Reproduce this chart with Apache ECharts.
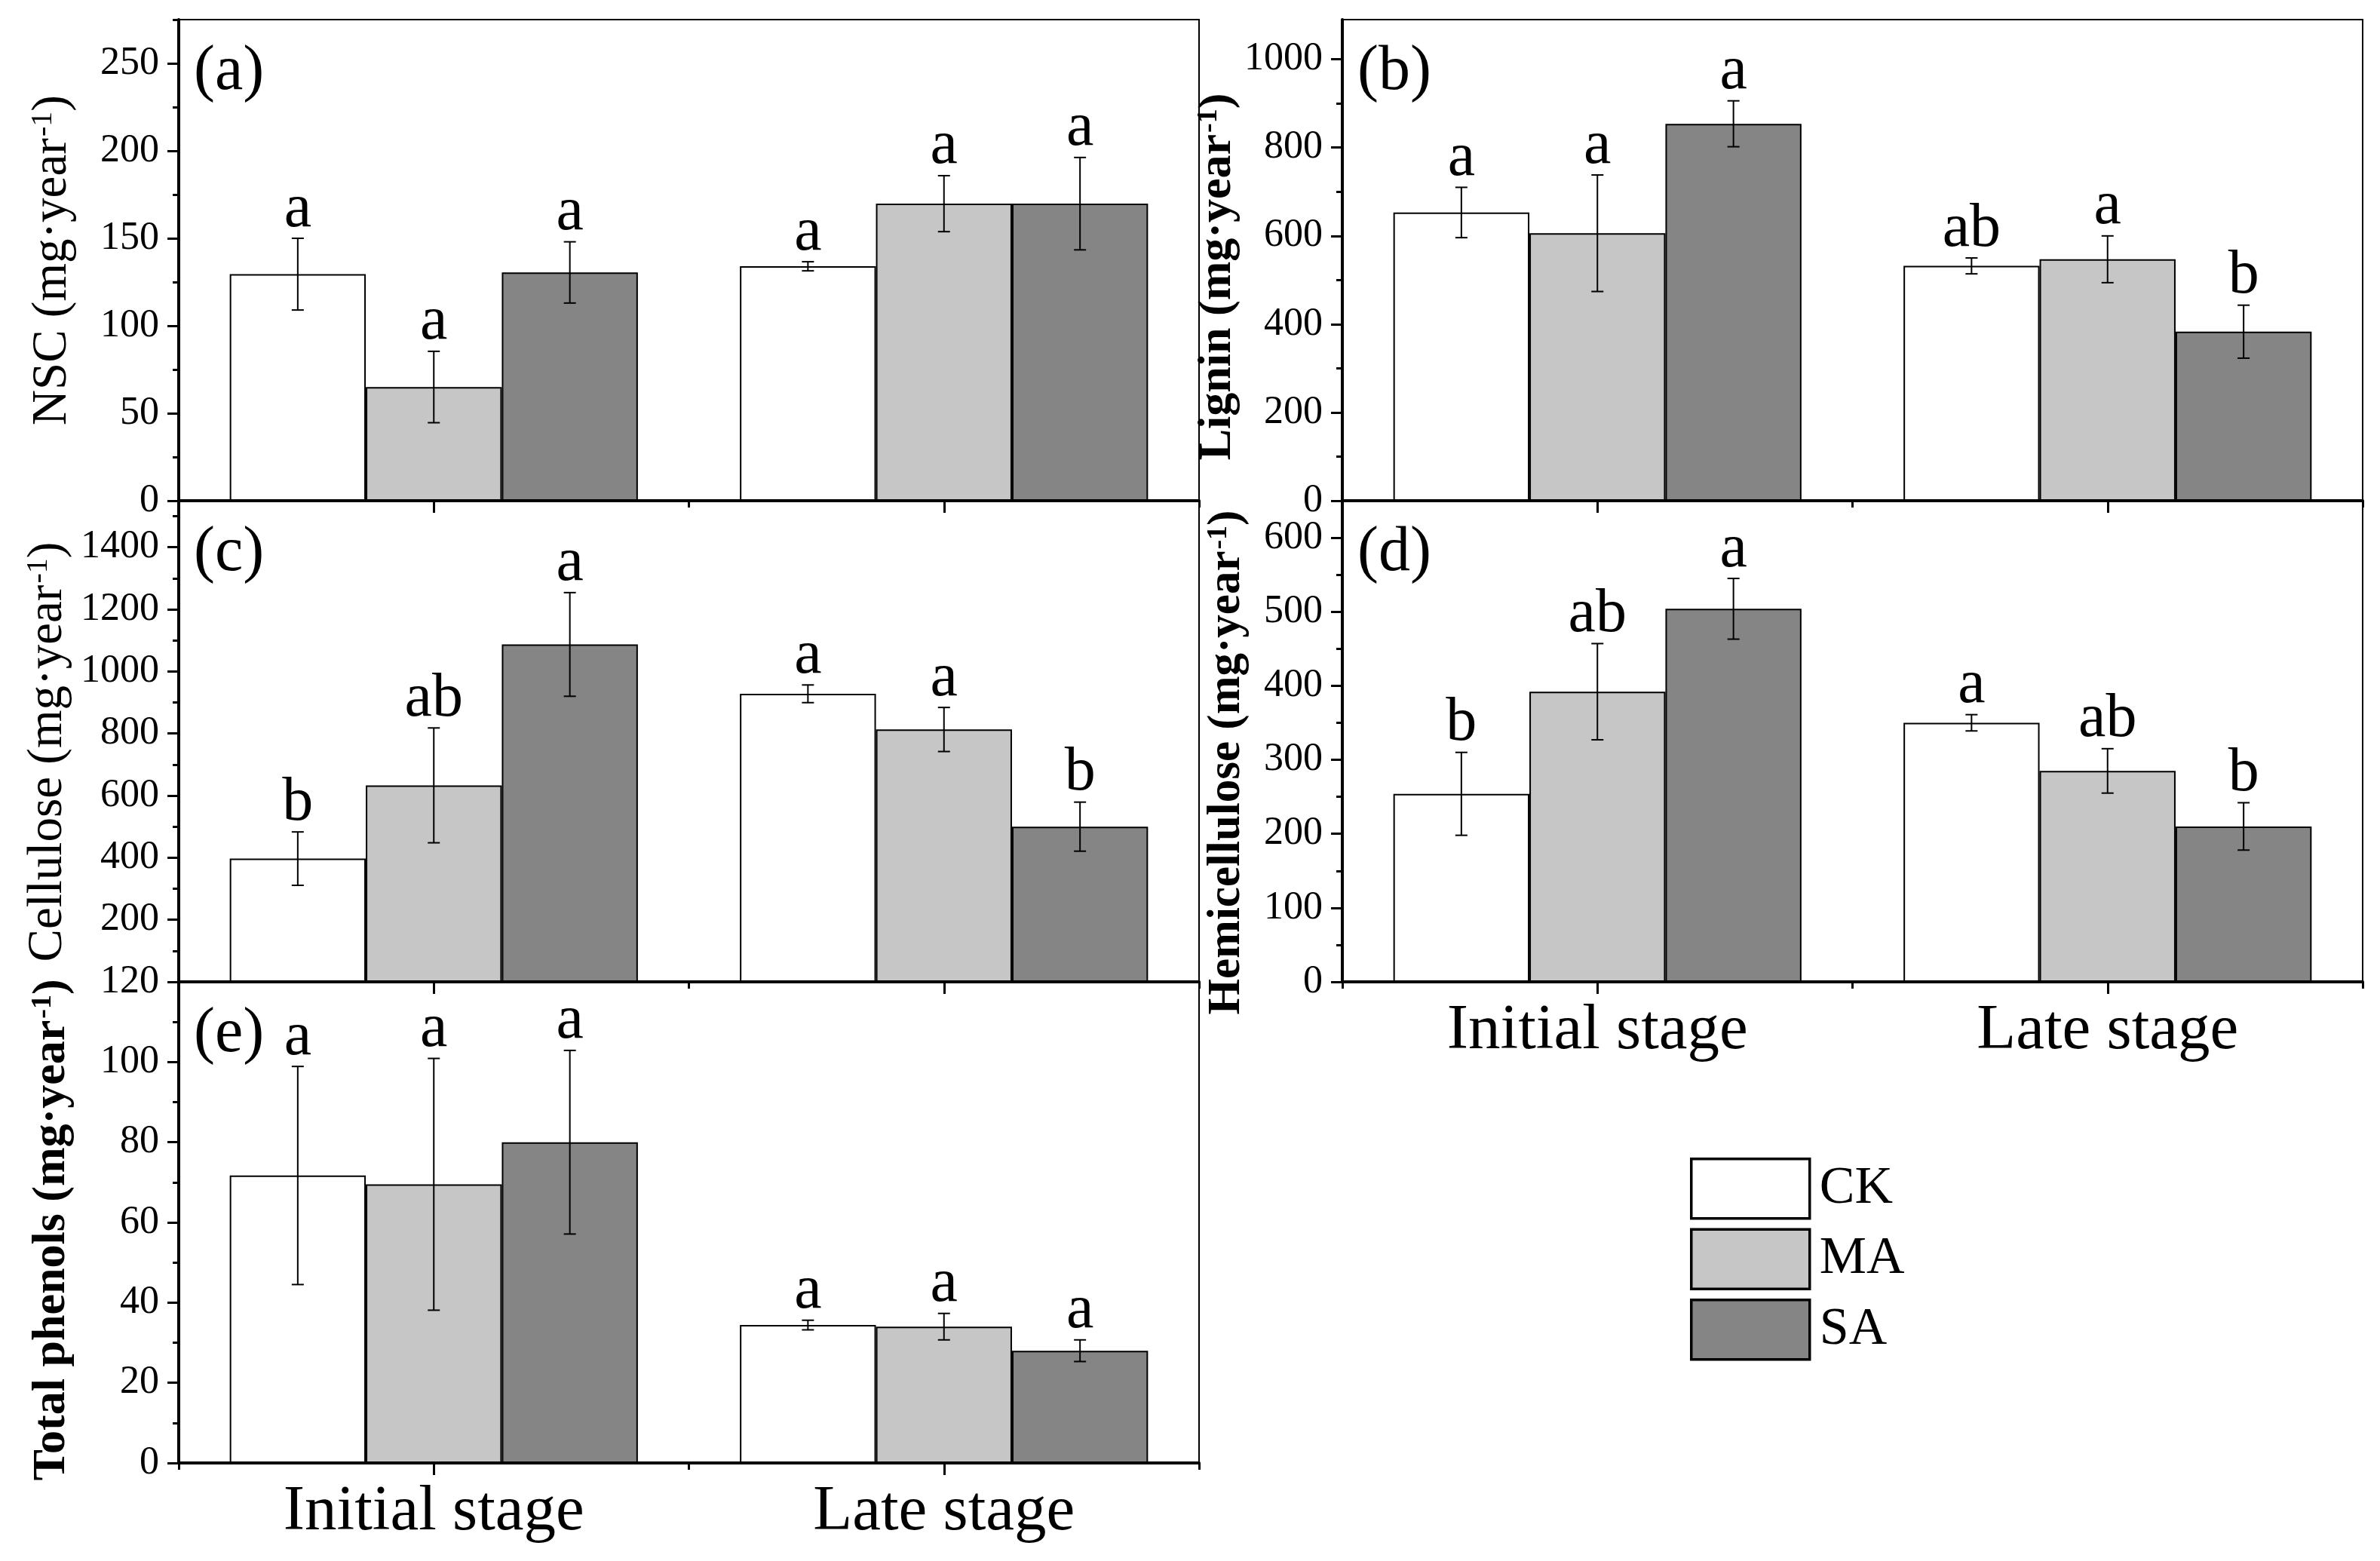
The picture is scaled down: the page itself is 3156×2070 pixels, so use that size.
<!DOCTYPE html>
<html><head><meta charset="utf-8">
<script src="https://cdn.jsdelivr.net/npm/echarts@6/dist/echarts.min.js"></script>
<style>html,body{margin:0;padding:0;background:#fff}#c{width:3156px;height:2070px}</style>
</head><body><div id="c"></div>
<script>
// ---------- data ----------
const categories = ['Initial stage', 'Late stage'];
const treatments = ['CK', 'MA', 'SA'];

// rows: CK, MA, SA ; columns: Initial stage, Late stage
const nscMean = [[129.5, 134.0], [65.0, 169.8], [130.5, 169.8]];
const nscErr = [[20.5, 2.6], [20.4, 16.0], [17.5, 26.4]];
const nscLetters = [['a', 'a'], ['a', 'a'], ['a', 'a']];
const nscTicks = [0, 50, 100, 150, 200, 250];

const ligninMean = [[653, 532], [606, 547], [854, 383]];
const ligninErr = [[57, 18], [132, 53], [52, 60]];
const ligninLetters = [['a', 'ab'], ['a', 'a'], ['a', 'b']];
const ligninTicks = [0, 200, 400, 600, 800, 1000];

const celluloseMean = [[397, 928], [633, 813], [1087, 500]];
const celluloseErr = [[86, 28.5], [185, 71], [167, 79]];
const celluloseLetters = [['b', 'a'], ['ab', 'a'], ['a', 'b']];
const celluloseTicks = [0, 200, 400, 600, 800, 1000, 1200, 1400];
const celluloseTickLabels = [200, 400, 600, 800, 1000, 1200, 1400];

const hemiMean = [[254, 350], [392, 285], [504, 210]];
const hemiErr = [[56, 11], [65, 30], [41, 32]];
const hemiLetters = [['b', 'a'], ['ab', 'ab'], ['a', 'b']];
const hemiTicks = [0, 100, 200, 300, 400, 500, 600];

const phenolMean = [[71.7, 34.4], [69.5, 34.0], [80.0, 28.0]];
const phenolErr = [[27.2, 1.2], [31.4, 3.3], [22.9, 2.7]];
const phenolLetters = [['a', 'a'], ['a', 'a'], ['a', 'a']];
const phenolTicks = [0, 20, 40, 60, 80, 100, 120];

// ---------- layout / style ----------
const FONT = '"Liberation Serif", "Times New Roman", serif';
const barColors = ['#ffffff', '#c6c6c6', '#858585'];
const W = 1353, H = 638;

const panels = [
  { tag: '(a)', title: 'NSC', mean: nscMean, err: nscErr, letters: nscLetters, ticks: nscTicks, labels: nscTicks, max: 275,
    left: 237, top: 26, showX: false, bold: false, nameSize: 65, nameGap: 135, shift: 0 },
  { tag: '(b)', title: 'Lignin', mean: ligninMean, err: ligninErr, letters: ligninLetters, ticks: ligninTicks, labels: ligninTicks, max: 1090,
    left: 1780, top: 26, showX: false, bold: true, nameSize: 62, nameGap: 120, shift: 22 },
  { tag: '(c)', title: 'Cellulose', mean: celluloseMean, err: celluloseErr, letters: celluloseLetters, ticks: celluloseTicks, labels: celluloseTickLabels, max: 1550,
    left: 237, top: 664, showX: false, bold: false, nameSize: 65, nameGap: 141, shift: 14 },
  { tag: '(d)', title: 'Hemicellulose', mean: hemiMean, err: hemiErr, letters: hemiLetters, ticks: hemiTicks, labels: hemiTicks, max: 650,
    left: 1780, top: 664, showX: true, bold: true, nameSize: 61, nameGap: 122, shift: 28 },
  { tag: '(e)', title: 'Total phenols', mean: phenolMean, err: phenolErr, letters: phenolLetters, ticks: phenolTicks, labels: phenolTicks, max: 120,
    left: 237, top: 1302, showX: true, bold: true, nameSize: 62, nameGap: 137, shift: 10 }
];

function minorOf(ticks, max) {
  const step = ticks[1] - ticks[0];
  const out = [];
  for (let i = 0; i < ticks.length; i++) {
    const v = ticks[i] + step / 2;
    if (v <= max + 1e-9) out.push(v);
  }
  return out;
}

const grids = [], xAxes = [], yAxes = [], series = [], graphics = [];

panels.forEach((p, k) => {
  grids.push({ left: p.left, top: p.top, width: W, height: H, show: true,
    borderColor: '#000', borderWidth: 2, backgroundColor: 'transparent', containLabel: false });

  xAxes.push({
    type: 'category', gridIndex: k, data: categories, position: 'bottom', z: 6,
    axisLine: { show: true, lineStyle: { color: '#000', width: 4 } },
    axisTick: { show: true, alignWithLabel: true, length: 16, lineStyle: { color: '#000', width: 3 } },
    axisLabel: { show: p.showX, fontSize: 85, fontFamily: FONT, color: '#000', margin: 23 }
  });
  xAxes.push({
    type: 'category', gridIndex: k, data: categories, position: 'bottom', z: 6,
    axisLine: { show: false },
    axisTick: { show: true, length: 9, lineStyle: { color: '#000', width: 3 } },
    axisLabel: { show: false }
  });

  const fs = p.nameSize;
  const fw = p.bold ? 'bold' : 'normal';
  yAxes.push({
    type: 'value', gridIndex: k, min: 0, max: p.max, position: 'left', z: 6,
    splitLine: { show: false },
    axisLine: { show: true, lineStyle: { color: '#000', width: 4 } },
    axisTick: { show: true, length: 15, lineStyle: { color: '#000', width: 3 }, customValues: p.ticks },
    axisLabel: { show: true, customValues: p.labels, fontSize: 52, fontFamily: FONT, color: '#000', margin: 26,
      formatter: v => String(v) },
    name: '{n|' + p.title + ' (mg·year}{s|-1}{n|)}',
    nameLocation: 'middle', nameGap: p.nameGap, nameRotate: 90,
    nameTextStyle: {
      fontSize: fs, fontFamily: FONT, color: '#000', fontWeight: fw,
      padding: [0, 2 * p.shift, 0, 0],
      rich: {
        n: { fontSize: fs, fontFamily: FONT, color: '#000', fontWeight: fw },
        s: { fontSize: Math.round(fs * 0.62), fontFamily: FONT, color: '#000', fontWeight: fw, verticalAlign: 'top', padding: [0, 0, 0, 2] }
      }
    }
  });
  yAxes.push({
    type: 'value', gridIndex: k, min: 0, max: p.max, position: 'left', z: 6,
    splitLine: { show: false },
    axisLine: { show: false },
    axisTick: { show: true, length: 8, lineStyle: { color: '#000', width: 3 }, customValues: minorOf(p.ticks, p.max) },
    axisLabel: { show: false }
  });

  treatments.forEach((t, ti) => {
    series.push({
      type: 'bar', name: t, xAxisIndex: 2 * k, yAxisIndex: 2 * k,
      data: p.mean[ti], barGap: '0%', barCategoryGap: '20%',
      itemStyle: { color: barColors[ti], borderColor: '#000', borderWidth: 2 },
      z: 2, animation: false
    });
  });

  const errData = [];
  treatments.forEach((t, ti) => {
    categories.forEach((c, ci) => errData.push([ci, p.mean[ti][ci] + p.err[ti][ci]]));
  });
  series.push({
    type: 'custom', xAxisIndex: 2 * k, yAxisIndex: 2 * k, z: 4, clip: false, animation: false,
    data: errData, silent: true,
    renderItem: (params, api) => {
      const idx = params.dataIndex;
      const ti = Math.floor(idx / categories.length), ci = idx % categories.length;
      const m = p.mean[ti][ci], e = p.err[ti][ci];
      const band = api.size([1, 0])[0];
      const bw = band * 0.8 / 3;
      const cx = api.coord([ci, m])[0] + (ti - 1) * bw;
      const yTop = api.coord([ci, m + e])[1];
      const yBot = api.coord([ci, m - e])[1];
      const cap = 8;
      const ls = { stroke: '#000', lineWidth: 2 };
      return {
        type: 'group',
        children: [
          { type: 'line', shape: { x1: cx, y1: yTop, x2: cx, y2: yBot }, style: ls },
          { type: 'line', shape: { x1: cx - cap, y1: yTop, x2: cx + cap, y2: yTop }, style: ls },
          { type: 'line', shape: { x1: cx - cap, y1: yBot, x2: cx + cap, y2: yBot }, style: ls },
          { type: 'text', style: { text: p.letters[ti][ci], x: cx, y: yTop + 3, align: 'center', verticalAlign: 'bottom',
              fontSize: 82, fontFamily: FONT, fill: '#000' } }
        ]
      };
    }
  });

  graphics.push({ type: 'text', left: p.left + 20, top: p.top + 28, z: 10,
    style: { text: p.tag, fontSize: 84, fontFamily: FONT, fill: '#000' } });
});

const chart = echarts.init(document.getElementById('c'), null, { renderer: 'canvas' });
chart.setOption({
  backgroundColor: '#fff',
  animation: false,
  grid: grids,
  xAxis: xAxes,
  yAxis: yAxes,
  series: series,
  graphic: graphics,
  legend: {
    data: treatments, orient: 'vertical', left: 2236, top: 1530,
    itemWidth: 157, itemHeight: 79, itemGap: 11, icon: 'rect', selectedMode: false,
    itemStyle: { borderColor: '#000', borderWidth: 3.5 },
    textStyle: { fontSize: 70, fontFamily: FONT, color: '#000', padding: [0, 0, 0, 8] }
  }
});
</script></body></html>
